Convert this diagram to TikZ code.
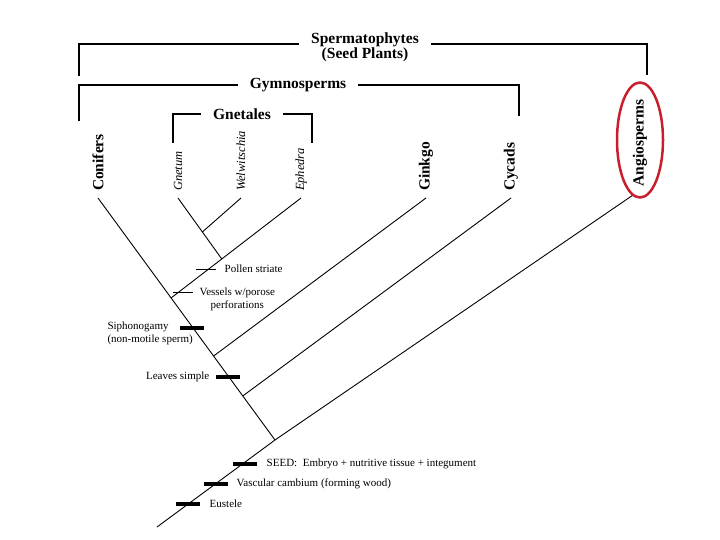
\documentclass[tikz,border=0pt]{standalone}
\usepackage{fontspec}
\setmainfont{Liberation Serif}
\usepackage{tikz}
\usetikzlibrary{positioning, calc, shapes.geometric}
\usepackage{xcolor}
\definecolor{ringred}{RGB}{200,30,45}
\tikzset{
    ramo/.style={draw=black, line width=0.9pt},
    chave/.style={draw=black, line width=1.8pt},
    grupo/.style={font=\fontsize{15.5}{14}\selectfont\bfseries, align=center, inner xsep=12pt, inner ysep=1pt},
    taxon/.style={font=\fontsize{15.5}{16}\selectfont\bfseries, rotate=90, anchor=west, inner sep=1pt, outer sep=6pt},
    genero/.style={taxon, font=\fontsize{12.5}{14}\selectfont\itshape},
    anel/.style={draw=ringred, ellipse, line width=2.5pt, minimum width=46pt, minimum height=115pt, inner sep=0pt},
    barra/.style={fill=black, minimum width=24pt, minimum height=4.5pt, inner sep=0pt},
    barrafina/.style={fill=black, minimum width=20pt, minimum height=0.9pt, inner sep=0pt},
    carater/.style={font=\fontsize{11}{13}\selectfont}
}

\begin{document}
\begin{tikzpicture}[x=1pt, y=-1pt]
    \useasboundingbox (0,0) rectangle (720,540);
    \node[grupo] (Esp) at (365,47) {Spermatophytes\\(Seed Plants)};
    \node[grupo] (Gim) at (298,85) {Gymnosperms};
    \node[grupo] (Gnl) at (242,114) {Gnetales};
    \draw[chave] ([yshift=3pt]Esp.west) -| (79,76);
    \draw[chave] ([yshift=3pt]Esp.east) -| (647,75);
    \draw[chave] (Gim.west) -| (79,121);
    \draw[chave] (Gim.east) -| (519,116);
    \draw[chave] (Gnl.west) -| (173,143);
    \draw[chave] (Gnl.east) -| (312,143);

    \node[taxon] (Con) at (98,198) {Conifers};
    \node[genero] (Gnt) at (178,198) {Gnetum};
    \node[genero] (Wel) at (241,198) {Welwitschia};
    \node[genero] (Eph) at (301,198) {Ephedra};
    \node[taxon] (Gin) at (426,198) {Ginkgo};
    \node[taxon] (Cyc) at (511,198) {Cycads};
    \node[taxon, anchor=center, outer sep=0pt] (Ang) at (640,143) {Angiosperms};
    \node[anel] (Anl) at (640,140) {};

    \coordinate (raiz) at (157,527);
    \coordinate (nAng) at (275,440);
    \coordinate (nCyc) at ($(nAng)!0.182!(Con.west)$);
    \coordinate (nGin) at ($(nAng)!0.347!(Con.west)$);
    \coordinate (nGne) at ($(nAng)!0.587!(Con.west)$);
    \coordinate (nEph) at ($(nGne)!0.39!(Eph.west)$);
    \coordinate (nWel) at ($(nEph)!0.443!(Gnt.west)$);
    \draw[ramo] (raiz) -- (nAng) -- (Anl.-98);
    \draw[ramo] (nAng) -- (Con.west);
    \draw[ramo] (nCyc) -- (Cyc.west);
    \draw[ramo] (nGin) -- (Gin.west);
    \draw[ramo] (nGne) -- (Eph.west);
    \draw[ramo] (nEph) -- (Gnt.west);
    \draw[ramo] (nWel) -- (Wel.west);

    \node[barra] (bEus) at (188,504) {};
    \node[carater, right=6pt of bEus] (lEus) {Eustele};
    \node[barra] (bCam) at (216,484) {};
    \node[carater, right=5pt of bCam] (lCam) {Vascular cambium (forming wood)};
    \node[barra] (bSem) at (245,464) {};
    \node[carater, right=6pt of bSem] (lSem) {SEED:\enspace Embryo + nutritive tissue + integument};
    \node[barra] (bFol) at (228,377) {};
    \node[carater, left=3pt of bFol] (lFol) {Leaves simple};
    \node[barra] (bSif) at (192,328) {};
    \node[carater, align=left, anchor=west] (lSif) at (104,333) {Siphonogamy\\(non-motile sperm)};
    \node[barrafina] (bVas) at (183,292) {};
    \node[carater, align=center, anchor=north west] (lVas) at (196,284) {Vessels w/porose\\perforations};
    \node[barrafina] (bPol) at (206,269) {};
    \node[carater, right=5pt of bPol] (lPol) {Pollen striate};
\end{tikzpicture}
\end{document}
